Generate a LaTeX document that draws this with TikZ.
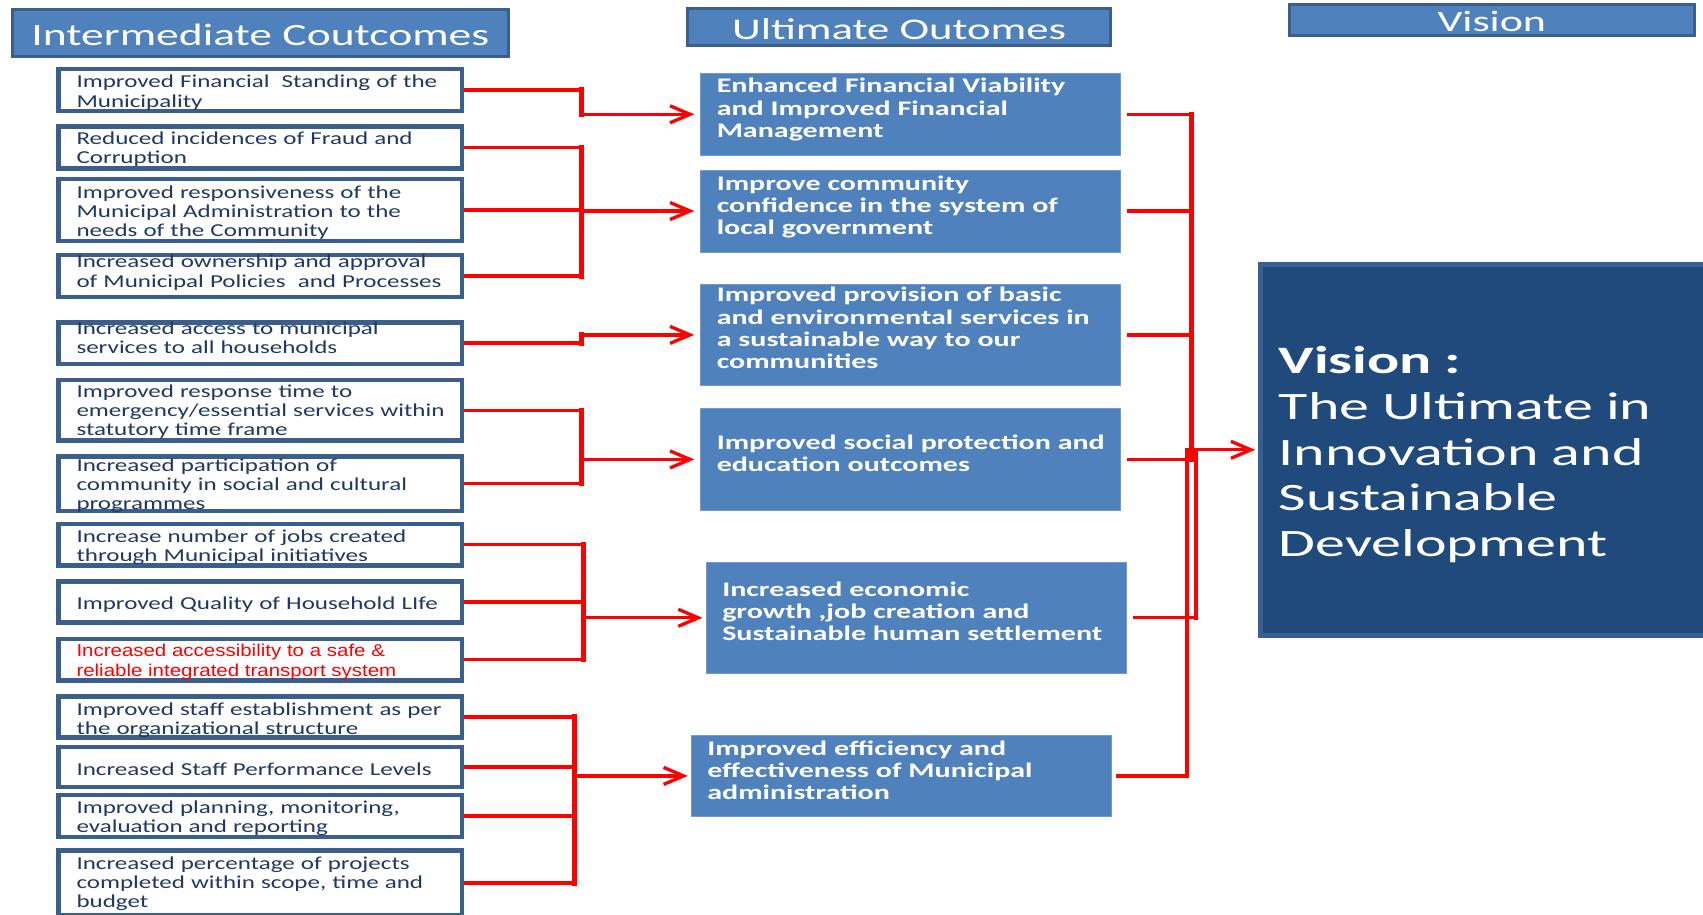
\documentclass[tikz,border=0pt]{standalone}
\usepackage{fontspec}
\usetikzlibrary{arrows.meta}
\newfontfamily\icfont[FakeStretch=1.375]{Carlito}
\newfontfamily\uofont[FakeStretch=1.45]{Carlito}
\newfontfamily\hdfont[FakeStretch=1.47]{Carlito}
\newfontfamily\hduofont[FakeStretch=1.49]{Carlito}
\newfontfamily\visfont[FakeStretch=1.545]{Carlito}
\newfontfamily\redfont[FakeStretch=1.19]{Liberation Sans}
\definecolor{ictext}{RGB}{31,56,100}
\definecolor{lborder}{RGB}{59,94,140}
\definecolor{hdfill}{RGB}{79,129,189}
\definecolor{hdborder}{RGB}{58,95,141}
\definecolor{uofill}{RGB}{79,129,189}
\definecolor{uoedge}{RGB}{110,155,208}
\definecolor{visfill}{RGB}{33,74,124}
\definecolor{visborder}{RGB}{56,96,146}
\definecolor{linered}{RGB}{255,0,0}
\hyphenpenalty=10000\relax
\exhyphenpenalty=10000\relax
\begin{document}
\begin{tikzpicture}[x=1pt,y=-1pt,
  lbox/.style={draw=lborder, line width=4.5pt, fill=white, minimum width=403.5pt,
    text width=367pt, align=left, inner sep=0pt, text height=0pt,
    font=\icfont\fontsize{18.2}{19.3}\selectfont, text=ictext},
  ubox/.style={fill=uofill, draw=uoedge, line width=1pt, minimum width=420pt,
    text width=388pt, align=left, inner sep=0pt, text height=0pt,
    font=\uofont\bfseries\fontsize{20.7}{22.4}\selectfont, text=white},
  hdr/.style={fill=hdfill, draw=hdborder, line width=3pt, inner sep=0pt,
    text depth=0pt, text=white},
  conn/.style={draw=linered, line width=3.3pt},
  vbus/.style={draw=linered, line width=5.3pt, line cap=rect},
  tipA/.style={-{Straight Barb[length=20pt,width=17pt]}}
]
\clip (0,0) rectangle (1703,914);

% headers
\node[hdr, minimum width=496.3pt, minimum height=46.4pt, text height=24pt,
  font=\hdfont\fontsize{31}{31}\selectfont] (hIC) at (260.35,33) {Intermediate Coutcomes};
\node[hdr, minimum width=422.6pt, minimum height=37.6pt, text height=24.6pt,
  font=\hduofont\fontsize{30}{30}\selectfont] (hUO) at (899.1,27) {Ultimate Outomes};
\node[hdr, minimum width=405.4pt, minimum height=30.2pt, text height=23.2pt,
  font=\hduofont\fontsize{29.5}{29.5}\selectfont] (hV) at (1491.8,20) {Vision};

% intermediate outcome boxes
\node[lbox, minimum height=42.1pt, text depth=4.6pt] (l1) at (260,90) {Improved Financial~ Standing of the\\Municipality};
\node[lbox, minimum height=41.9pt, text depth=6.4pt] (l2) at (260,147.5) {Reduced incidences of Fraud and\\Corruption};
\node[lbox, minimum height=62.1pt, text depth=23.4pt] (l3) at (260,210) {Improved responsiveness of the\\Municipal Administration to the\\needs of the Community};
\node[lbox, minimum height=42.1pt, text depth=16.6pt] (l4) at (260,276) {Increased ownership and approval\\of Municipal Policies~ and Processes};
\node[lbox, minimum height=41.5pt, text depth=17.4pt] (l5) at (260,343) {Increased access to municipal\\services to all households};
\node[lbox, minimum height=60.5pt, text depth=25.8pt] (l6) at (260,410.2) {Improved response time to\\\mbox{emergency/essential services within}\\statutory time frame};
\node[lbox, minimum height=54.5pt, text depth=25pt] (l7) at (260,483.8) {Increased participation of\\community in social and cultural\\programmes};
\node[lbox, minimum height=41.5pt, text depth=4.8pt] (l8) at (260,544.7) {Increase number of jobs created\\through Municipal initiatives};
\node[lbox, minimum height=41.2pt, text height=14.6pt, text depth=0pt] (l9) at (260,602) {Improved Quality of Household LIfe};
\node[lbox, minimum height=41.5pt, text depth=6pt, font=\redfont\fontsize{17.2}{19.3}\selectfont, text=linered] (l10) at (260,659.7) {Increased accessibility to a safe \&\\reliable integrated transport system};
\node[lbox, minimum height=41.2pt, text depth=4pt] (l11) at (260,717) {Improved staff establishment as per\\the organizational structure};
\node[lbox, minimum height=39.8pt, text height=16pt, text depth=0pt] (l12) at (260,767) {Increased Staff Performance Levels};
\node[lbox, minimum height=42.1pt, text depth=5.4pt] (l13) at (260,816) {Improved planning, monitoring,\\evaluation and reporting};
\node[lbox, minimum height=65pt, text depth=27.4pt] (l14) at (260,883) {Increased percentage of projects\\completed within scope, time and\\budget};

% ultimate outcome boxes
\node[ubox, minimum height=82pt, text depth=43.2pt] (u1) at (910.75,114.3) {Enhanced Financial Viability\\and Improved Financial\\Management};
\node[ubox, minimum height=82pt, text depth=42pt] (u2) at (910.75,211) {Improve community\\confidence in the system of\\local government};
\node[ubox, minimum height=101.7pt, text depth=66.4pt] (u3) at (910.75,334.9) {Improved provision of basic\\and environmental services in\\a sustainable way to our\\communities};
\node[ubox, minimum height=101.3pt, text depth=19.8pt] (u4) at (910.75,459.4) {\mbox{Improved social protection and}\\education outcomes};
\node[ubox, minimum height=111pt, minimum width=419.5pt, text depth=43.6pt] (u5) at (916.25,617.8) {Increased economic\\growth ,job creation and\\Sustainable human settlement};
\node[ubox, minimum height=81.7pt, text depth=41.8pt] (u6) at (901.3,775.9) {Improved efficiency and\\effectiveness of Municipal\\administration};

% vision box
\node[draw=visborder, line width=5pt, fill=visfill, minimum width=460pt, minimum height=370.6pt,
  text width=422.6pt, align=left, inner sep=0pt, text height=0pt, text depth=152.2pt,
  font=\visfont\fontsize{38.8}{45.7}\selectfont, text=white] (vis) at (1490.1,449.8)
  {\textbf{Vision :}\\The Ultimate in\\Innovation and\\Sustainable\\Development};

% bus coordinates
\coordinate (bA) at (581.7,0);
\coordinate (bE) at (583.5,0);
\coordinate (bF) at (574.5,0);
\coordinate (bR) at (1191.7,0);
\coordinate (bR5) at (1196,0);
\coordinate (bR6) at (1187,0);

% left connectors
\draw[conn, tipA, shorten >=6pt] (l1.east) -- (l1.east -| bA) |- (u1.west);
\draw[vbus] (l1.east -| bA) -- (u1.west -| bA);

\draw[conn] (l2.east) -| (l4.east -| bA) -- (l4.east);
\draw[vbus] (l2.east -| bA) -- (l4.east -| bA);
\draw[conn] (l3.east) -- (l3.east -| bA);
\draw[conn, tipA, shorten >=6pt] (u2.west -| bA) -- (u2.west);

\draw[conn, tipA, shorten >=6pt] (l5.east) -- (l5.east -| bA) |- (u3.west);
\draw[vbus] (l5.east -| bA) -- (u3.west -| bA);

\draw[conn] (l6.east) -| (l7.east -| bA) -- (l7.east);
\draw[vbus] (l6.east -| bA) -- (l7.east -| bA);
\draw[conn, tipA, shorten >=6pt] (u4.west -| bA) -- (u4.west);

\draw[conn] (l8.east) -| (l10.east -| bE) -- (l10.east);
\draw[vbus] (l8.east -| bE) -- (l10.east -| bE);
\draw[conn] (l9.east) -- (l9.east -| bE);
\draw[conn, tipA, shorten >=3.5pt] (u5.west -| bE) -- (u5.west);

\draw[conn] (l11.east) -| (l14.east -| bF) -- (l14.east);
\draw[vbus] (l11.east -| bF) -- (l14.east -| bF);
\draw[conn] (l12.east) -- (l12.east -| bF);
\draw[conn] (l13.east) -- (l13.east -| bF);
\draw[conn, tipA, shorten >=3pt] (u6.west -| bF) -- (u6.west);

% right connectors
\draw[conn, shorten <=6pt, shorten >=6pt] (u1.east) -| (u4.east -| bR) -- (u4.east);
\draw[vbus] (u1.east -| bR) -- (u4.east -| bR);
\draw[conn, shorten <=6pt] (u2.east) -- (u2.east -| bR);
\draw[conn, shorten <=6pt] (u3.east) -- (u3.east -| bR);
\draw[conn, shorten <=6pt] (u5.east) -| (vis.west -| bR5);
\draw[vbus, line width=3.8pt] (u5.east -| bR5) -- (vis.west -| bR5);
\draw[conn, shorten <=4pt] (u6.east) -| (vis.west -| bR6);
\draw[vbus, line width=3.8pt] (u6.east -| bR6) -- (vis.west -| bR6);
\draw[conn, tipA, shorten >=2.5pt] (vis.west -| bR6) -- (vis.west);
\end{tikzpicture}
\end{document}
